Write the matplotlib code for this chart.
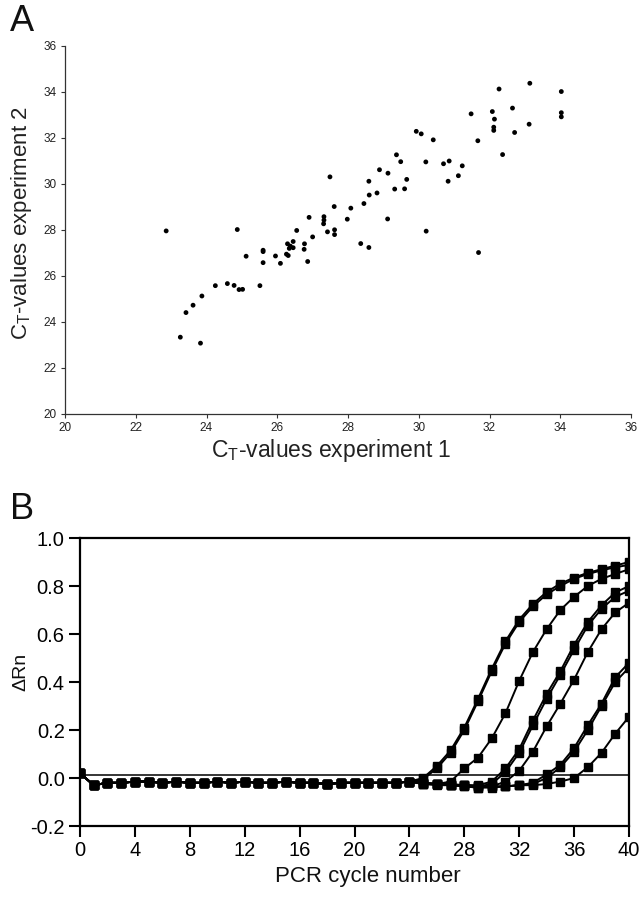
import matplotlib
matplotlib.use("Agg")
import matplotlib.pyplot as plt
from matplotlib.ticker import FormatStrFormatter

plt.rcParams['font.family'] = ['Liberation Sans', 'DejaVu Sans']
plt.rcParams['mathtext.fontset'] = 'custom'
plt.rcParams['mathtext.rm'] = 'Liberation Sans'

# ---------------- Panel A data ----------------
ct_exp1 = [22.86, 23.26, 23.42, 23.62, 23.83, 23.87, 24.25, 24.59, 24.78, 24.87,
           24.92, 25.02, 25.12, 25.51, 25.60, 25.60, 25.60, 25.95, 26.09, 26.26,
           26.31, 26.29, 26.34, 26.37, 26.45, 26.45, 26.55, 26.77, 26.76, 26.86,
           26.90, 27.00, 27.32, 27.32, 27.31, 27.42, 27.49, 27.61, 27.62, 27.62,
           27.98, 28.08, 28.36, 28.45, 28.59, 28.60, 28.59, 28.82, 28.89, 29.12,
           29.13, 29.32, 29.37, 29.49, 29.60, 29.66, 29.93, 30.07, 30.20, 30.21,
           30.41, 30.70, 30.86, 30.83, 31.12, 31.23, 31.48, 31.67, 31.69, 32.08,
           32.14, 32.12, 32.12, 32.27, 32.37, 32.65, 32.71, 33.12, 33.14, 34.03,
           34.03, 34.03]
ct_exp2 = [27.96, 23.34, 24.41, 24.73, 23.08, 25.13, 25.58, 25.67, 25.59, 28.02,
           25.41, 25.42, 26.86, 25.58, 27.12, 27.06, 26.58, 26.87, 26.55, 26.95,
           26.89, 27.40, 27.20, 27.30, 27.23, 27.50, 27.98, 27.40, 27.16, 26.63,
           28.55, 27.70, 28.58, 28.43, 28.27, 27.92, 30.31, 29.02, 28.01, 27.80,
           28.47, 28.95, 27.41, 29.15, 30.12, 29.52, 27.24, 29.61, 30.62, 28.48,
           30.47, 29.78, 31.27, 30.97, 29.79, 30.20, 32.29, 32.18, 30.96, 27.95,
           31.92, 30.88, 31.00, 30.12, 30.36, 30.79, 33.05, 31.88, 27.02, 33.15,
           32.82, 32.47, 32.33, 34.13, 31.28, 33.30, 32.24, 32.60, 34.38, 34.02,
           33.10, 32.92]
a_ticks = [20, 22, 24, 26, 28, 30, 32, 34, 36]

# ---------------- Panel B data ----------------
cycles = list(range(0, 41))
baseline = [0.02, -0.03, -0.02, -0.02, -0.015, -0.015, -0.02, -0.015, -0.02, -0.02,
            -0.015, -0.02, -0.015, -0.02, -0.02, -0.015, -0.02, -0.02, -0.025, -0.02,
            -0.02, -0.02, -0.02, -0.02, -0.015]          # cycles 0-24
rise_c1 = [0.0, 0.05, 0.115, 0.21, 0.33, 0.455, 0.57, 0.66, 0.725, 0.775, 0.81, 0.835, 0.855, 0.87, 0.885, 0.90]
rise_c2 = [-0.005, 0.04, 0.105, 0.20, 0.32, 0.445, 0.56, 0.65, 0.715, 0.765, 0.80, 0.83, 0.85, 0.865, 0.878, 0.888]
rise_c3 = [-0.02, -0.025, -0.015, 0.04, 0.085, 0.165, 0.27, 0.405, 0.525, 0.62, 0.70, 0.755, 0.80, 0.83, 0.85, 0.87]
rise_c4 = [-0.02, -0.025, -0.025, -0.03, -0.03, -0.015, 0.04, 0.12, 0.24, 0.35, 0.445, 0.555, 0.65, 0.72, 0.773, 0.80]
rise_c5 = [-0.02, -0.025, -0.03, -0.03, -0.035, -0.025, 0.025, 0.105, 0.22, 0.33, 0.43, 0.535, 0.635, 0.705, 0.755, 0.78]
rise_c6 = [-0.02, -0.025, -0.03, -0.035, -0.04, -0.035, -0.015, 0.03, 0.11, 0.215, 0.31, 0.41, 0.525, 0.62, 0.69, 0.73]
rise_c7 = [-0.025, -0.025, -0.03, -0.03, -0.035, -0.035, -0.035, -0.03, -0.02, 0.015, 0.055, 0.125, 0.22, 0.31, 0.42, 0.48]
rise_c8 = [-0.025, -0.03, -0.03, -0.035, -0.04, -0.04, -0.035, -0.03, -0.025, 0.0, 0.045, 0.11, 0.20, 0.30, 0.40, 0.46]
rise_c9 = [-0.025, -0.025, -0.03, -0.03, -0.035, -0.035, -0.035, -0.03, -0.03, -0.025, -0.015, 0.0, 0.045, 0.105, 0.185, 0.255]
rises = [rise_c1, rise_c2, rise_c3, rise_c4, rise_c5, rise_c6, rise_c7, rise_c8, rise_c9]
threshold = 0.012
b_xticks = [0, 4, 8, 12, 16, 20, 24, 28, 32, 36, 40]
b_yticks = [-0.2, 0.0, 0.2, 0.4, 0.6, 0.8, 1.0]

W, H = 640, 899
fig = plt.figure(figsize=(W / 100, H / 100), dpi=100)

# ---------------- Panel A ----------------
axA = fig.add_axes([65 / W, 1 - 414 / H, (631 - 65) / W, (414 - 46) / H])
axA.scatter(ct_exp1, ct_exp2, s=12, c='black', edgecolors='none', zorder=3)
axA.set_xlim(20, 36)
axA.set_ylim(20, 36)
axA.set_xticks(a_ticks)
axA.set_yticks(a_ticks)
for s in ['top', 'right']:
    axA.spines[s].set_visible(False)
for s in ['left', 'bottom']:
    axA.spines[s].set_linewidth(0.9)
    axA.spines[s].set_color('#333333')
axA.tick_params(direction='out', length=3, width=0.8, color='#333333',
                labelsize=8.5, labelcolor='#222222', pad=3)
xl = axA.set_xlabel(r'C$_\mathregular{T}$-values experiment 1', fontsize=16.5, color='#222222')
axA.xaxis.set_label_coords(0.47, -0.098)
xl.set_va('center')
yl = axA.set_ylabel(r'C$_\mathregular{T}$-values experiment 2', fontsize=16, color='#222222')
axA.yaxis.set_label_coords(-0.076, 0.52)
yl.set_va('center')
fig.text(10 / W, 1 - 31 / H, 'A', fontsize=26, va='baseline', ha='left', color='#111111')

# ---------------- Panel B ----------------
axB = fig.add_axes([80 / W, 1 - 826 / H, (629 - 80) / W, (826 - 538) / H])
for r in rises:
    axB.plot(cycles, baseline + r, color='black', lw=1.4, marker='s', markersize=5.5,
             markerfacecolor='black', markeredgecolor='black', zorder=3)
axB.axhline(threshold, color='black', lw=1.1, zorder=2)
axB.set_xlim(0, 40)
axB.set_ylim(-0.2, 1.0)
axB.set_xticks(b_xticks)
axB.set_yticks(b_yticks)
axB.yaxis.set_major_formatter(FormatStrFormatter('%.1f'))
for s in axB.spines.values():
    s.set_linewidth(1.6)
axB.tick_params(direction='out', length=8, width=1.5, labelsize=14.5, pad=3)
xlb = axB.set_xlabel('PCR cycle number', fontsize=16, color='#111111')
axB.xaxis.set_label_coords(0.525, -0.177)
xlb.set_va('center')
ylb = axB.set_ylabel('ΔRn', fontsize=14, color='#111111')
axB.yaxis.set_label_coords(-0.107, 0.535)
ylb.set_va('center')
fig.text(10 / W, 1 - 519 / H, 'B', fontsize=26, va='baseline', ha='left', color='#111111')

fig.savefig('out.png', dpi=100)
